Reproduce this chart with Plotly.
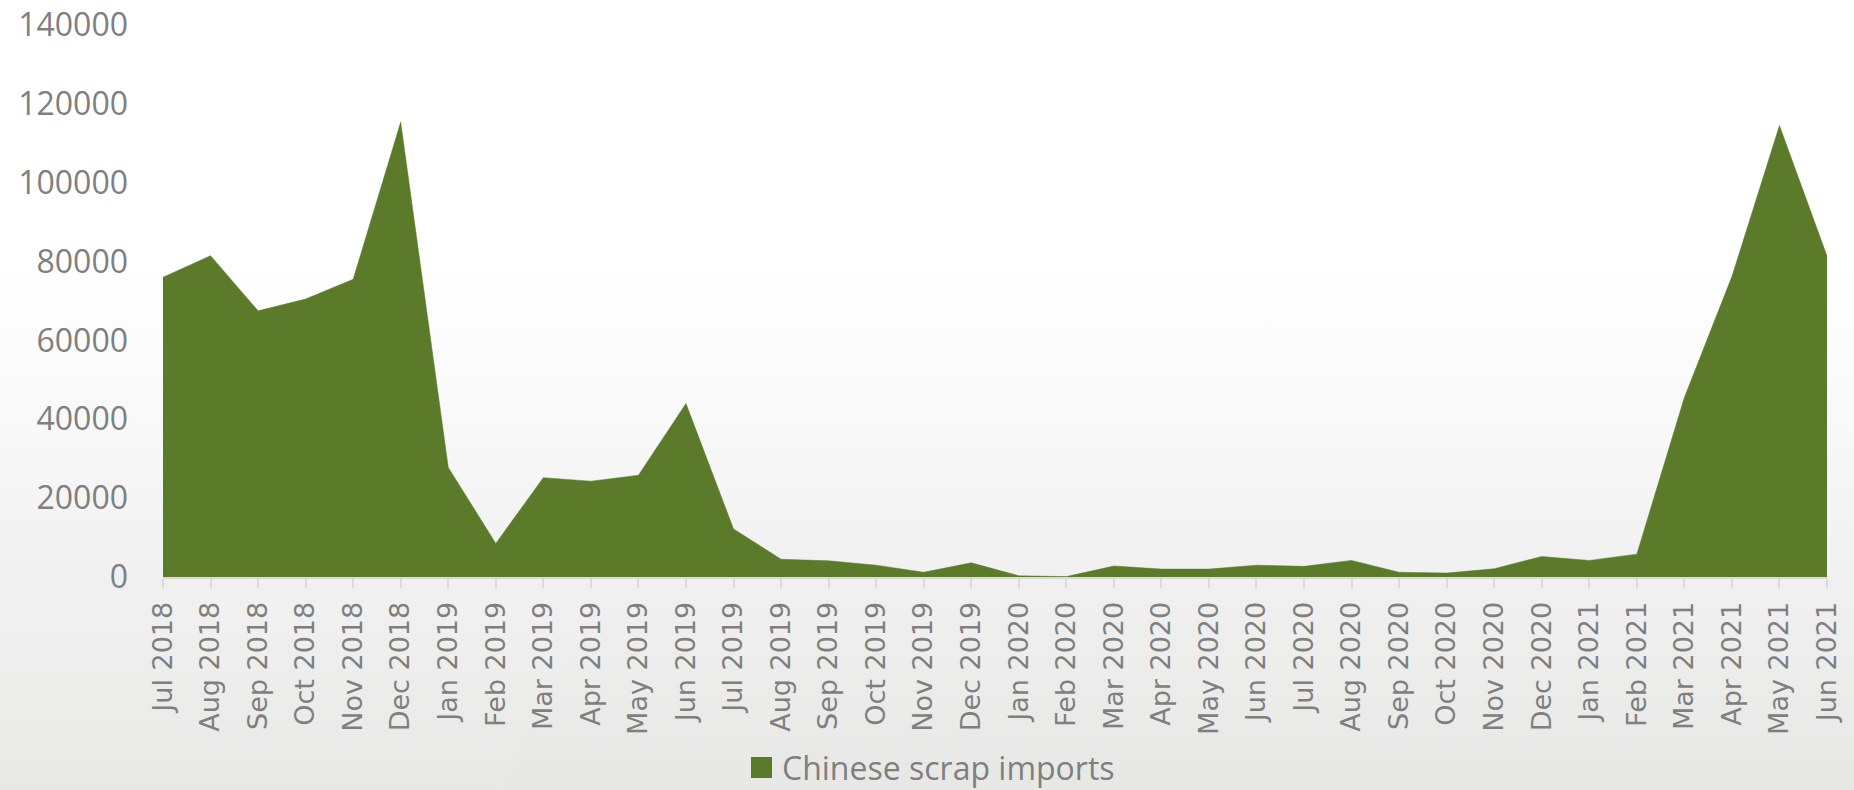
import base64
import plotly.graph_objects as go

# Monthly Chinese scrap imports (tonnes), Jul 2018 - Jun 2021
months = [
    "Jul 2018", "Aug 2018", "Sep 2018", "Oct 2018", "Nov 2018", "Dec 2018",
    "Jan 2019", "Feb 2019", "Mar 2019", "Apr 2019", "May 2019", "Jun 2019",
    "Jul 2019", "Aug 2019", "Sep 2019", "Oct 2019", "Nov 2019", "Dec 2019",
    "Jan 2020", "Feb 2020", "Mar 2020", "Apr 2020", "May 2020", "Jun 2020",
    "Jul 2020", "Aug 2020", "Sep 2020", "Oct 2020", "Nov 2020", "Dec 2020",
    "Jan 2021", "Feb 2021", "Mar 2021", "Apr 2021", "May 2021", "Jun 2021",
]
imports = [
    76000, 81500, 67500, 70500, 75500, 115400,
    27800, 8500, 25200, 24300, 25800, 44000,
    12200, 4500, 4100, 3000, 1200, 3600,
    300, 100, 2800, 2000, 2000, 3000,
    2700, 4200, 1200, 1000, 2100, 5200,
    4200, 5800, 45500, 76200, 114500, 81400,
]
y_ticks = [0, 20000, 40000, 60000, 80000, 100000, 120000, 140000]

series_name = "Chinese scrap imports"
fill_color = "#5b7a2a"
text_color = "#7f7f7f"

W, H = 1854, 790
left, right, top, bottom = 163, 27, 25, 213
plot_w = W - left - right
plot_h = H - top - bottom


def px_x(px):
    """Pixel column -> paper x."""
    return (px - left) / plot_w


def px_y(py):
    """Pixel row (from top) -> paper y."""
    return (H - bottom - py) / plot_h


# soft slide-style backdrop: white fading to light grey, with faint green tints low down
svg = f"""<svg xmlns='http://www.w3.org/2000/svg' width='{W}' height='{H}' viewBox='0 0 {W} {H}' preserveAspectRatio='none'>
<defs>
<linearGradient id='g' x1='0' y1='0' x2='0' y2='1'>
<stop offset='0' stop-color='#ffffff'/>
<stop offset='0.32' stop-color='#ffffff'/>
<stop offset='0.55' stop-color='#f8f8f8'/>
<stop offset='0.74' stop-color='#f0f0f0'/>
<stop offset='1' stop-color='#e7e8e5'/>
</linearGradient>
<radialGradient id='gl' cx='0' cy='1' r='0.5'>
<stop offset='0' stop-color='#cdd6c0' stop-opacity='0.9'/>
<stop offset='1' stop-color='#cdd6c0' stop-opacity='0'/>
</radialGradient>
<radialGradient id='gr' cx='0.92' cy='1' r='0.35'>
<stop offset='0' stop-color='#d6e0c2' stop-opacity='0.8'/>
<stop offset='1' stop-color='#d6e0c2' stop-opacity='0'/>
</radialGradient>
</defs>
<rect width='{W}' height='{H}' fill='url(#g)'/>
<ellipse cx='0' cy='{H}' rx='330' ry='140' fill='url(#gl)'/>
<ellipse cx='{W - 150}' cy='{H + 10}' rx='520' ry='70' fill='url(#gr)'/>
<polygon points='0,600 600,600 500,{H} 0,{H}' fill='#ffffff' fill-opacity='0.08'/>
</svg>"""
bg_uri = "data:image/svg+xml;base64," + base64.b64encode(svg.encode()).decode()

fig = go.Figure()
fig.add_trace(go.Scatter(
    x=months, y=imports, mode="lines", fill="tozeroy", name=series_name,
    fillcolor=fill_color, line=dict(color=fill_color, width=0.5),
    showlegend=False, hoverinfo="x+y",
))

# legend: square swatch plus series label, centred under the axis labels
swatch = 21
sw_left, sw_top = 751, 757
fig.add_shape(
    type="rect", xref="paper", yref="paper", layer="above",
    x0=px_x(sw_left), x1=px_x(sw_left + swatch),
    y0=px_y(sw_top + swatch), y1=px_y(sw_top),
    fillcolor=fill_color, line=dict(width=0),
)
fig.add_annotation(
    text=series_name, xref="paper", yref="paper",
    x=px_x(sw_left + swatch + 8), y=px_y(sw_top + swatch / 2),
    xanchor="left", yanchor="middle", showarrow=False,
    font=dict(family="Open Sans", size=32, color=text_color),
)

fig.update_layout(
    width=W, height=H,
    margin=dict(l=left, r=right, t=top, b=bottom, pad=0, autoexpand=False),
    paper_bgcolor="rgba(0,0,0,0)", plot_bgcolor="rgba(0,0,0,0)",
    images=[dict(
        source=bg_uri, xref="paper", yref="paper",
        x=-left / plot_w, y=1 + top / plot_h,
        sizex=W / plot_w, sizey=H / plot_h,
        xanchor="left", yanchor="top", sizing="stretch", layer="below",
    )],
    font=dict(family="Open Sans", color=text_color),
    showlegend=False,
    xaxis=dict(
        type="category", categoryorder="array", categoryarray=months,
        range=[0, len(months) - 1], automargin=False,
        showgrid=False, zeroline=False,
        showline=True, linecolor="#d9d9d9", linewidth=2,
        ticks="outside", ticklen=9, tickwidth=2, tickcolor="#d9d9d9",
        tickangle=-90, ticklabelstandoff=3,
        tickfont=dict(family="DejaVu Sans", size=27, color=text_color),
    ),
    yaxis=dict(
        range=[0, 140000], tickvals=y_ticks, tickformat="d", automargin=False,
        showgrid=False, zeroline=False, showline=False,
        ticks="", ticklabelstandoff=34,
        tickfont=dict(family="Open Sans", size=32, color=text_color),
    ),
)

fig.write_html("out.html")
